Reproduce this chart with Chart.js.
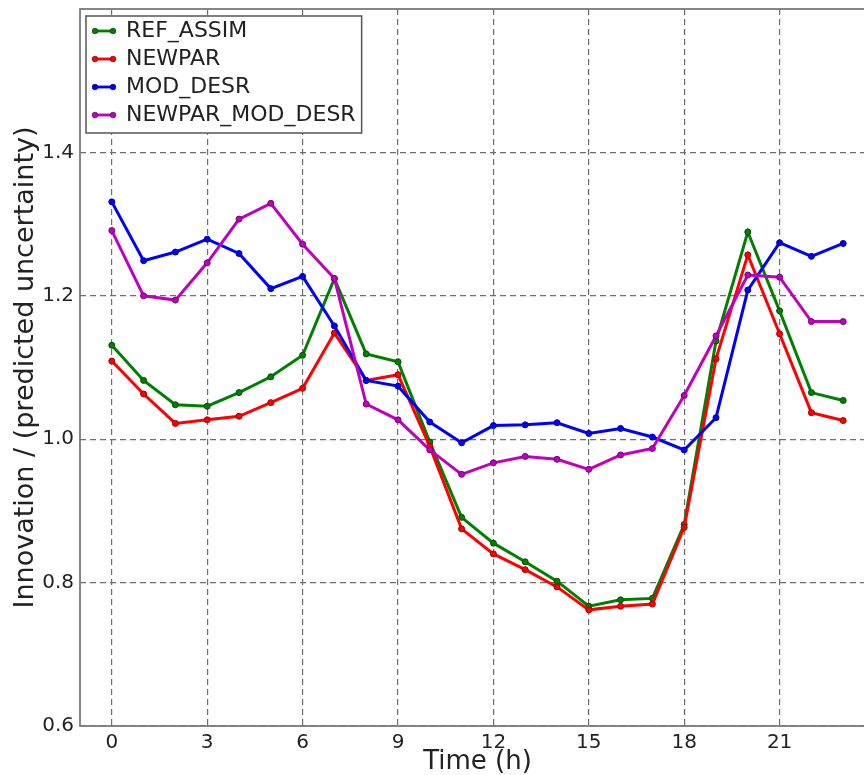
<!DOCTYPE html>
<html><head><meta charset="utf-8">
<script src="https://cdn.jsdelivr.net/npm/chart.js@4.4.0/dist/chart.umd.min.js"></script>
<style>
html,body{margin:0;padding:0;background:#fff;overflow:hidden;width:864px;height:775px}
#wrap{width:880px;height:775px;position:relative}
</style></head>
<body><div id="wrap"><canvas id="c" width="880" height="775"></canvas></div>
<script>
const hours = [0,1,2,3,4,5,6,7,8,9,10,11,12,13,14,15,16,17,18,19,20,21,22,23];
const refAssim = [1.131,1.082,1.048,1.046,1.065,1.087,1.117,1.224,1.119,1.108,0.996,0.891,0.855,0.829,0.802,0.767,0.776,0.778,0.881,1.137,1.289,1.179,1.065,1.054];
const newpar = [1.109,1.063,1.022,1.027,1.032,1.051,1.071,1.148,1.082,1.090,0.990,0.875,0.840,0.818,0.794,0.762,0.767,0.770,0.877,1.112,1.257,1.147,1.037,1.026];
const modDesr = [1.331,1.249,1.261,1.279,1.259,1.210,1.227,1.158,1.082,1.074,1.024,0.995,1.019,1.020,1.023,1.008,1.015,1.003,0.985,1.030,1.208,1.274,1.255,1.273];
const newparModDesr = [1.291,1.200,1.194,1.246,1.307,1.329,1.272,1.224,1.049,1.027,0.985,0.951,0.967,0.976,0.972,0.958,0.978,0.987,1.061,1.144,1.229,1.226,1.164,1.164];
const seriesNames = ['REF_ASSIM','NEWPAR','MOD_DESR','NEWPAR_MOD_DESR'];
const xTicks = [0,3,6,9,12,15,18,21];
const yTicks = [0.6,0.8,1.0,1.2,1.4];

const colors = ['#008000','#ff0000','#0000ff','#bf00bf'];
const edges = ['#004d00','#990000','#000099','#700070'];
const FONT = "'DejaVu Sans', sans-serif";

function pts(arr){ return hours.map((h,i)=>({x:h, y:arr[i]})); }
function legendSymbol(color, edge){
  const c = document.createElement('canvas'); c.width = 24; c.height = 8;
  const g = c.getContext('2d');
  g.strokeStyle = color; g.lineWidth = 2.8;
  g.beginPath(); g.moveTo(3,4); g.lineTo(21,4); g.stroke();
  [3,21].forEach(x=>{ g.beginPath(); g.arc(x,4,2.8,0,Math.PI*2); g.fillStyle=color; g.fill(); g.lineWidth=0.8; g.strokeStyle=edge; g.stroke(); });
  return c;
}
const symbols = colors.map((c,i)=>legendSymbol(c, edges[i]));
const allSeries = [refAssim, newpar, modDesr, newparModDesr];

const datasets = allSeries.map((s,i)=>({
  label: seriesNames[i],
  data: pts(s),
  borderColor: colors[i],
  backgroundColor: colors[i],
  pointBackgroundColor: colors[i],
  pointBorderColor: edges[i],
  pointBorderWidth: 1,
  pointRadius: 3,
  borderWidth: 3,
  tension: 0,
  order: 3 - i
}));

const framePlugin = {
  id: 'framePlugin',
  afterLayout(chart){
    const L = chart.legend;
    if (L) { L.left = chart.chartArea.left + 7; L.top = chart.chartArea.top + 5; }
    if (L && !L._wrapped) {
      const orig = L.draw.bind(L);
      L.draw = function(){
        const ctx = chart.ctx;
        const lab = L.options.labels;
        const fs = lab.font.size;
        ctx.save();
        ctx.font = fs + "px " + FONT;
        let maxW = 0;
        seriesNames.forEach(n=>{ maxW = Math.max(maxW, ctx.measureText(n).width); });
        const textX = L.left + lab.padding + lab.pointStyleWidth + fs/2;
        const x0 = L.left - 1, y0 = L.top + 2;
        const x1 = textX + maxW + 6;
        const y1 = L.top + lab.padding + (seriesNames.length - 1) * (fs + lab.padding) + fs/2 + 18;
        ctx.fillStyle = '#fff';
        ctx.fillRect(x0, y0, x1 - x0, y1 - y0);
        ctx.strokeStyle = '#555'; ctx.lineWidth = 1.5;
        ctx.strokeRect(x0, y0, x1 - x0, y1 - y0);
        ctx.restore();
        orig();
      };
      L._wrapped = true;
    }
  },
  afterDraw(chart){
    const a = chart.chartArea, ctx = chart.ctx;
    ctx.save();
    ctx.strokeStyle = '#7a7a7a'; ctx.lineWidth = 1.8;
    ctx.strokeRect(a.left, a.top, a.right - a.left, a.bottom - a.top);
    ctx.restore();
  }
};

new Chart(document.getElementById('c'), {
  type: 'line',
  data: { datasets },
  plugins: [framePlugin],
  options: {
    responsive: false,
    animation: false,
    devicePixelRatio: 1,
    layout: { padding: { top: 9, right: 5, left: 0, bottom: 0 } },
    plugins: {
      tooltip: { enabled: false },
      legend: {
        position: 'chartArea',
        align: 'start',
        labels: {
          usePointStyle: true,
          pointStyleWidth: 22,
          padding: 6,
          color: '#222',
          font: { family: FONT, size: 22 },
          sort: (a,b) => a.datasetIndex - b.datasetIndex,
          generateLabels(chart){
            const items = Chart.defaults.plugins.legend.labels.generateLabels(chart);
            items.forEach(it=>{ it.pointStyle = symbols[it.datasetIndex]; });
            return items;
          }
        }
      }
    },
    scales: {
      x: {
        type: 'linear', min: -1, max: 24,
        afterFit(s){ s.height = 49; s.paddingLeft = 0; s.paddingRight = 0; },
        afterBuildTicks(s){ s.ticks = xTicks.map(v=>({value:v})); },
        border: { display: false, dash: [6,4] },
        grid: { color: '#6e6e6e', lineWidth: 1.2, drawTicks: false, tickLength: 0 },
        ticks: { color: '#222', font: { family: FONT, size: 20 }, padding: 5, maxRotation: 0, autoSkip: false, callback: v => String(v) },
        title: { display: true, text: 'Time (h)', color: '#222', font: { family: FONT, size: 26, lineHeight: 1 }, padding: { top: 0, bottom: 0 } }
      },
      y: {
        type: 'linear', min: 0.6, max: 1.6,
        afterFit(s){ s.width = 80; s.paddingTop = 0; s.paddingBottom = 0; },
        afterBuildTicks(s){ s.ticks = yTicks.map(v=>({value:v})); },
        border: { display: false, dash: [6,4] },
        grid: { color: '#6e6e6e', lineWidth: 1.2, drawTicks: false, tickLength: 0 },
        ticks: { color: '#222', font: { family: FONT, size: 20 }, padding: 6, autoSkip: false, callback: v => Number(v).toFixed(1) },
        title: { display: true, text: 'Innovation / (predicted uncertainty)', color: '#222', font: { family: FONT, size: 27, lineHeight: 1 }, padding: { top: 12, bottom: 0 } }
      }
    }
  }
});
</script>
</body></html>
